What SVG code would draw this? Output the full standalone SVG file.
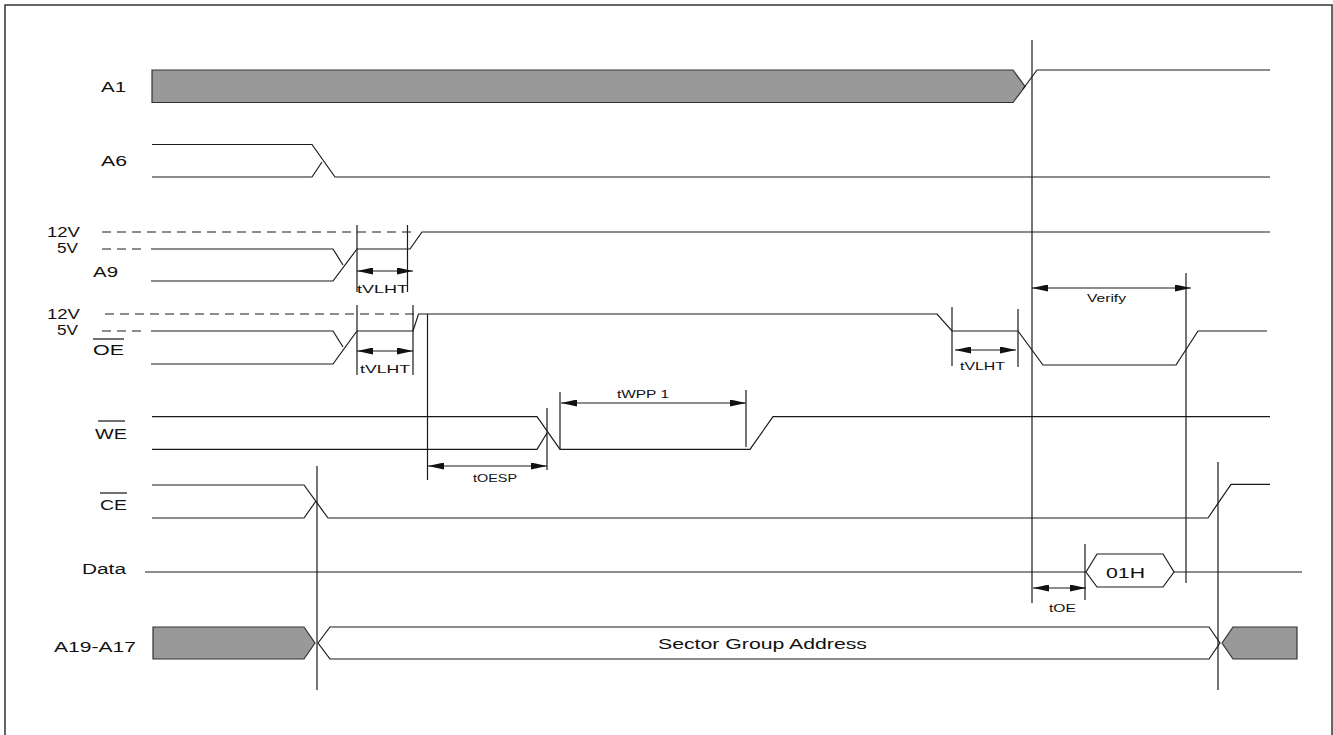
<svg xmlns="http://www.w3.org/2000/svg" width="1333" height="735" viewBox="0 0 1333 735">
<style>
.w{fill:none;stroke:#1a1a1a;stroke-width:1.2}
.d{fill:none;stroke:#1a1a1a;stroke-width:1.1;stroke-dasharray:9,6}
.bus{fill:#999;stroke:#333;stroke-width:1.2}
.bw{fill:#fff;stroke:#1a1a1a;stroke-width:1.2}
.t{fill:none;stroke:#1a1a1a;stroke-width:1.2}
.ar{fill:none;stroke:#1a1a1a;stroke-width:1.1;marker-start:url(#ah);marker-end:url(#ah)}
.lb{font-family:"Liberation Sans",Arial,sans-serif;font-size:14px;fill:#111}
.sm{font-family:"Liberation Sans",Arial,sans-serif;font-size:11.5px;fill:#111}
</style>
<defs>
<marker id="ah" viewBox="0 0 16 7" refX="16" refY="3.5" markerWidth="16" markerHeight="7" markerUnits="userSpaceOnUse" orient="auto-start-reverse">
<path d="M0,0 L16,3.5 L0,7 Z" fill="#111"/>
</marker>
</defs>
<rect width="1333" height="735" fill="#fff"/>
<rect x="5" y="5" width="1327" height="740" fill="none" stroke="#333" stroke-width="1.5"/>

<g id="A1">
<text class="lb" x="101" y="91.5" textLength="25" lengthAdjust="spacingAndGlyphs">A1</text>
<polygon class="bus" points="152,70 1013,70 1025,86.5 1013,102.5 152,102.5"/>
<path class="w" d="M1023,89 L1037,70 H1270"/>
</g>

<g id="A6">
<text class="lb" x="101" y="166" textLength="26" lengthAdjust="spacingAndGlyphs">A6</text>
<path class="w" d="M152,144.5 H312 L335,177 H1270"/>
<path class="w" d="M152,177 H312 L322,162"/>
</g>

<g id="A9">
<text class="lb" x="47" y="237" textLength="33" lengthAdjust="spacingAndGlyphs">12V</text>
<text class="lb" x="57" y="253" textLength="21" lengthAdjust="spacingAndGlyphs">5V</text>
<text class="lb" x="93" y="277" textLength="25" lengthAdjust="spacingAndGlyphs">A9</text>
<path class="d" d="M102,232 H416"/>
<path class="d" d="M102,249 H147"/>
<path class="w" d="M151,249 H333 L343,265"/>
<path class="w" d="M151,281 H333 L357,249 H410 L422,232 H1270"/>
</g>

<g id="OE">
<text class="lb" x="47" y="318.5" textLength="33" lengthAdjust="spacingAndGlyphs">12V</text>
<text class="lb" x="57" y="335" textLength="21" lengthAdjust="spacingAndGlyphs">5V</text>
<text class="lb" x="93" y="355" textLength="31" lengthAdjust="spacingAndGlyphs">OE</text>
<line x1="93" y1="339" x2="124" y2="339" stroke="#111" stroke-width="1.2"/>
<path class="d" d="M105,314 H416"/>
<path class="d" d="M102,331 H147"/>
<path class="w" d="M151,331 H333 L343,347"/>
<path class="w" d="M151,364 H333 L357,331 H413 L418.5,314 H937 L952,331 H1018 L1043,365 H1176 L1198,331 H1267"/>
</g>

<g id="WE">
<text class="lb" x="95" y="438.5" textLength="32" lengthAdjust="spacingAndGlyphs">WE</text>
<line x1="98" y1="421" x2="125" y2="421" stroke="#111" stroke-width="1.2"/>
<path class="w" d="M152,416.7 H537 L560,449.3 H750 L773,416.7 H1270"/>
<path class="w" d="M152,449.3 H537 L547,433"/>
</g>

<g id="CE">
<text class="lb" x="100" y="509.5" textLength="27" lengthAdjust="spacingAndGlyphs">CE</text>
<line x1="100" y1="493" x2="127" y2="493" stroke="#111" stroke-width="1.2"/>
<path class="w" d="M152,485 H304 L328,518 H1208 L1231,484.3 H1270"/>
<path class="w" d="M152,518 H304 L316,501"/>
</g>

<g id="Data">
<text class="lb" x="82" y="574" textLength="44" lengthAdjust="spacingAndGlyphs">Data</text>
<path class="w" d="M145,572 H1086"/>
<polygon class="bw" points="1086,572 1097,554 1163,554 1174,572 1163,587 1097,587"/>
<text class="lb" x="1106" y="578" textLength="39" lengthAdjust="spacingAndGlyphs">01H</text>
<path class="w" d="M1174,572 H1302"/>
</g>

<g id="A19-A17">
<text class="lb" x="54" y="652" textLength="82" lengthAdjust="spacingAndGlyphs">A19-A17</text>
<polygon class="bus" points="153,627 304,627 315,643 304,659 153,659"/>
<polygon class="bw" points="318,643 330,627 1209,627 1220,643 1209,659 330,659"/>
<text class="lb" x="658" y="648.5" textLength="209" lengthAdjust="spacingAndGlyphs">Sector Group Address</text>
<polygon class="bus" points="1222,643 1233,627 1297,627 1297,659 1233,659"/>
</g>

<g id="connectors">
<line class="t" x1="1032" y1="40" x2="1032" y2="603"/>
<line class="t" x1="317" y1="466" x2="317" y2="690"/>
<line class="t" x1="1218" y1="462" x2="1218" y2="690"/>
<line class="t" x1="427.5" y1="314" x2="427.5" y2="480"/>
<line class="t" x1="357" y1="225" x2="357" y2="292"/>
<line class="t" x1="407.5" y1="225" x2="407.5" y2="292"/>
<line class="ar" x1="357" y1="271" x2="413" y2="271"/>
<text class="sm" x="357" y="293" textLength="51" lengthAdjust="spacingAndGlyphs">tVLHT</text>
<line class="t" x1="357" y1="305" x2="357" y2="375"/>
<line class="t" x1="413" y1="305" x2="413" y2="375"/>
<line class="ar" x1="357" y1="351" x2="413" y2="351"/>
<text class="sm" x="360" y="373" textLength="50" lengthAdjust="spacingAndGlyphs">tVLHT</text>
<line class="t" x1="952" y1="307" x2="952" y2="366"/>
<line class="t" x1="1018" y1="309" x2="1018" y2="367"/>
<line class="ar" x1="955" y1="350" x2="1016" y2="350"/>
<text class="sm" x="960" y="370" textLength="45" lengthAdjust="spacingAndGlyphs">tVLHT</text>
<line class="t" x1="547" y1="408" x2="547" y2="470"/>
<line class="ar" x1="428" y1="466" x2="547" y2="466"/>
<text class="sm" x="473" y="482" textLength="44" lengthAdjust="spacingAndGlyphs">tOESP</text>
<line class="t" x1="560" y1="392" x2="560" y2="449"/>
<line class="t" x1="746" y1="390" x2="746" y2="447"/>
<line class="ar" x1="561" y1="403" x2="746" y2="403"/>
<text class="sm" x="617" y="397.5" textLength="52" lengthAdjust="spacingAndGlyphs">tWPP 1</text>
<line class="t" x1="1186" y1="273" x2="1186" y2="583"/>
<line class="ar" x1="1032" y1="288" x2="1191" y2="288"/>
<text class="sm" x="1087" y="302" textLength="39" lengthAdjust="spacingAndGlyphs">Verify</text>
<line class="t" x1="1085" y1="544" x2="1085" y2="600"/>
<line class="ar" x1="1033" y1="588" x2="1086" y2="588"/>
<text class="sm" x="1049" y="612" textLength="27" lengthAdjust="spacingAndGlyphs">tOE</text>
</g>
</svg>
